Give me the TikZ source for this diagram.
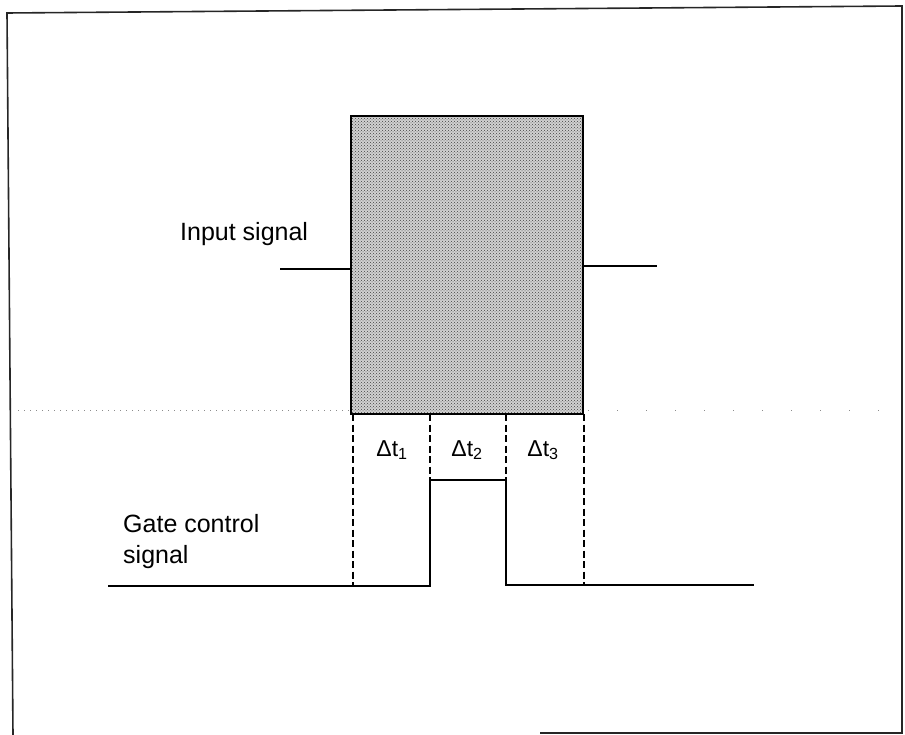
\documentclass[tikz,border=0pt]{standalone}
\usepackage{fontspec}
\setmainfont{Liberation Sans}
\usetikzlibrary{patterns}
\begin{document}
\begin{tikzpicture}[x=1pt,y=-1pt,
  frame/.style={line width=1.6pt, black!85},
  sig/.style={line width=1.8pt, black},
  dashline/.style={line width=1.8pt, dash pattern=on 7pt off 3.5pt},
  guide/.style={line width=1pt, black!45, dash pattern=on 1pt off 5pt},
  lbl/.style={font=\fontsize{25}{30}\selectfont, inner sep=0pt, anchor=base west},
  dlbl/.style={font=\fontsize{23}{28}\selectfont, inner sep=0pt, anchor=base}]
\useasboundingbox (0,0) rectangle (905,735);
% frame
\coordinate (fTL) at (7,13);
\coordinate (fTR) at (902,6);
\coordinate (fBL) at (13,735);
\coordinate (fBR) at (902,733);
\coordinate (fB0) at (540,733);
\draw[frame] (fBL) -- (fTL) -- (fTR) -- (fBR) -- (fB0);
% guide dotted line
\coordinate (g1) at (18,410);
\coordinate (g2) at (349,410);
\coordinate (g3) at (588,410);
\coordinate (g4) at (900,410);
\draw[guide] (g1) -- (g2);
\draw[guide, dash pattern=on 1pt off 28pt] (g3) -- (g4);
% shaded box
\coordinate (bTL) at (351,116);
\coordinate (bBR) at (583,414);
\fill[black!18] (bTL) rectangle (bBR);
\fill[pattern=crosshatch dots, pattern color=black!75] (bTL) rectangle (bBR);
\draw[sig] (bTL) rectangle (bBR);
% input / output signal
\coordinate (in0) at (280,269);
\coordinate (in1) at (351,269);
\coordinate (out0) at (583,266);
\coordinate (out1) at (657,266);
\draw[sig] (in0) -- (in1);
\draw[sig] (out0) -- (out1);
% dashed time markers
\coordinate (d1a) at (353,414); \coordinate (d1b) at (353,585);
\coordinate (d2a) at (430,414); \coordinate (d2b) at (430,480);
\coordinate (d3a) at (506,414); \coordinate (d3b) at (506,480);
\coordinate (d4a) at (584,414); \coordinate (d4b) at (584,585);
\draw[dashline] (d1a) -- (d1b);
\draw[dashline] (d2a) -- (d2b);
\draw[dashline] (d3a) -- (d3b);
\draw[dashline] (d4a) -- (d4b);
% gate control signal
\coordinate (gs0) at (108,586);
\coordinate (gs1) at (430,586);
\coordinate (gs2) at (430,480);
\coordinate (gs3) at (506,480);
\coordinate (gs4) at (506,585);
\coordinate (gs5) at (754,585);
\draw[sig] (gs0) -- (gs1) -- (gs2) -- (gs3) -- (gs4) -- (gs5);
% labels
\node[lbl] (inlbl) at (180,241) {Input signal};
\node[lbl] (gate1) at (123,532) {Gate control};
\node[lbl] (gate2) at (123,563) {signal};
\node[dlbl] (dt1) at (392,456) {Δt\textsubscript{1}};
\node[dlbl] (dt2) at (467,456) {Δt\textsubscript{2}};
\node[dlbl] (dt3) at (543,456) {Δt\textsubscript{3}};
\end{tikzpicture}
\end{document}
